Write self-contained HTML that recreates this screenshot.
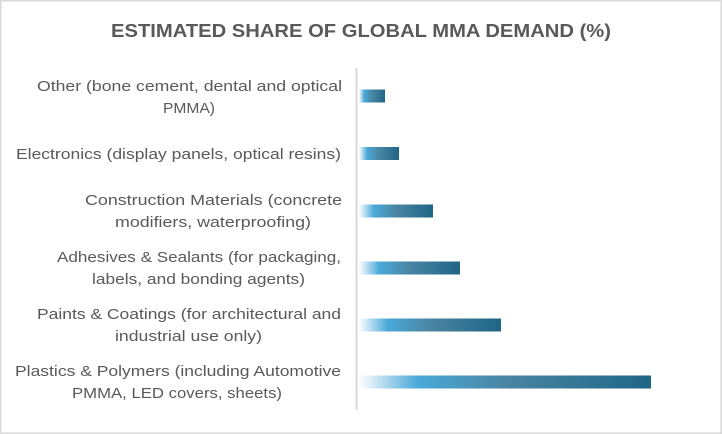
<!DOCTYPE html>
<html><head><meta charset="utf-8"><style>
html,body{margin:0;padding:0;background:#fff}
svg{display:block}
text{font-family:"Liberation Sans",sans-serif;fill:#595959}
</style></head><body>
<svg width="722" height="434" viewBox="0 0 722 434" xmlns="http://www.w3.org/2000/svg">
<defs>
<linearGradient id="g" x1="0" x2="1" y1="0" y2="0">
<stop offset="0" stop-color="#ffffff"/>
<stop offset="0.2" stop-color="#4aa9d9"/>
<stop offset="0.5" stop-color="#4a85a3"/>
<stop offset="1" stop-color="#1f6586"/>
</linearGradient>
</defs>
<rect x="0.75" y="0.75" width="720.5" height="432.5" fill="#fff" stroke="#d9d9d9" stroke-width="1.5"/>
<text x="361" y="37" text-anchor="middle" font-size="18" font-weight="bold" textLength="500" lengthAdjust="spacingAndGlyphs">ESTIMATED SHARE OF GLOBAL MMA DEMAND (%)</text>
<line x1="356.5" y1="68" x2="356.5" y2="410" stroke="#d9d9d9" stroke-width="2"/>
<g font-size="15" text-anchor="middle">
<text x="189.5" y="91" textLength="305" lengthAdjust="spacingAndGlyphs">Other (bone cement, dental and optical</text>
<text x="189" y="113" textLength="52" lengthAdjust="spacingAndGlyphs">PMMA)</text>
<text x="178.5" y="159" textLength="325" lengthAdjust="spacingAndGlyphs">Electronics (display panels, optical resins)</text>
<text x="213.5" y="205" textLength="257" lengthAdjust="spacingAndGlyphs">Construction Materials (concrete</text>
<text x="213" y="227" textLength="196" lengthAdjust="spacingAndGlyphs">modifiers, waterproofing)</text>
<text x="199" y="262" textLength="284" lengthAdjust="spacingAndGlyphs">Adhesives &amp; Sealants (for packaging,</text>
<text x="198.5" y="284" textLength="213" lengthAdjust="spacingAndGlyphs">labels, and bonding agents)</text>
<text x="189" y="319" textLength="304" lengthAdjust="spacingAndGlyphs">Paints &amp; Coatings (for architectural and</text>
<text x="188.5" y="341" textLength="147" lengthAdjust="spacingAndGlyphs">industrial use only)</text>
<text x="178" y="376" textLength="326" lengthAdjust="spacingAndGlyphs">Plastics &amp; Polymers (including Automotive</text>
<text x="177" y="398" textLength="210" lengthAdjust="spacingAndGlyphs">PMMA, LED covers, sheets)</text>
</g>
<g fill="url(#g)">
<rect x="359" y="89.5" width="26" height="13"/>
<rect x="359" y="147" width="40" height="13"/>
<rect x="359" y="204.5" width="74" height="13"/>
<rect x="359" y="261.5" width="101" height="13"/>
<rect x="359" y="318.5" width="142" height="13"/>
<rect x="359" y="375.5" width="292" height="13"/>
</g>
</svg>
</body></html>
